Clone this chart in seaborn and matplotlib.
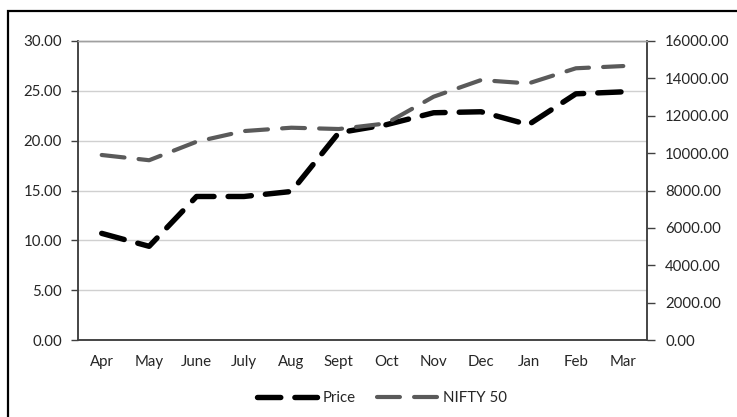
import matplotlib
matplotlib.use("Agg")
import matplotlib.pyplot as plt
from matplotlib.patches import Rectangle
from matplotlib.ticker import FixedLocator, FuncFormatter
import seaborn as sns
import pandas as pd
import numpy as np

months = ["Apr", "May", "June", "July", "Aug", "Sept", "Oct", "Nov", "Dec", "Jan", "Feb", "Mar"]
price = [10.7, 9.4, 14.4, 14.4, 14.9, 20.8, 21.6, 22.8, 22.9, 21.6, 24.7, 24.9]
nifty = [9900, 9620, 10610, 11180, 11360, 11290, 11590, 13020, 13910, 13730, 14540, 14660]
left_ticks = [0, 5, 10, 15, 20, 25, 30]
right_ticks = [0, 2000, 4000, 6000, 8000, 10000, 12000, 14000, 16000]

df = pd.DataFrame({"idx": np.arange(len(months)), "month": months,
                   "Price": price, "NIFTY 50": nifty})

sns.set_style("white")
plt.rcParams["font.family"] = ["Lato", "DejaVu Sans"]

FS = 10.8
TXT = "#262626"

fig = plt.figure(figsize=(7.37, 4.17), dpi=100)
ax = fig.add_axes([78 / 737, 1 - 340 / 417, (647 - 78) / 737, (340 - 41) / 417])
ax2 = ax.twinx()

sns.lineplot(data=df, x="idx", y="Price", ax=ax, color="black", linewidth=3.9,
             label="Price", legend=False)
sns.lineplot(data=df, x="idx", y="NIFTY 50", ax=ax2, color="#5a5a5a", linewidth=3.0,
             label="NIFTY 50", legend=False)
for ln in ax.lines:
    ln.set_dashes((4.3, 2.6))
    ln.set_dash_capstyle("round")
for ln in ax2.lines:
    ln.set_dashes((5.5, 3.4))
    ln.set_dash_capstyle("round")

ax.set_xlim(-0.5, len(months) - 0.5)
ax.set_ylim(0, 30)
ax2.set_ylim(0, 16000)

ax.yaxis.set_major_locator(FixedLocator(left_ticks))
ax2.yaxis.set_major_locator(FixedLocator(right_ticks))
ax.yaxis.set_major_formatter(FuncFormatter(lambda v, p: f"{v:.2f}"))
ax2.yaxis.set_major_formatter(FuncFormatter(lambda v, p: f"{v:.2f}"))

ax.set_xticks(np.arange(len(months)))
ax.set_xticklabels(months)
ax.set_xticks(np.arange(-0.5, len(months)), minor=True)
ax.tick_params(axis="x", which="major", length=0, pad=11, labelsize=FS, labelcolor=TXT)
ax.tick_params(axis="x", which="minor", length=4, width=1, color="#404040", direction="out")
ax.tick_params(axis="y", length=5, width=1, color="#404040", direction="out",
               labelsize=FS, labelcolor=TXT, pad=6.5)
ax2.tick_params(axis="y", length=5.5, width=1, color="#404040", direction="out",
                labelsize=FS, labelcolor=TXT, pad=7.5)
ax.set_xlabel("")
ax.set_ylabel("")
ax2.set_ylabel("")

ax.grid(axis="y", color="#d0d0d0", linewidth=1)
ax.set_axisbelow(True)
for a in (ax, ax2):
    for s in a.spines.values():
        s.set_color("#404040")
        s.set_linewidth(1.1)
    a.spines["top"].set_color("#a0a0a0")
    a.spines["top"].set_linewidth(1)
ax2.grid(False)

handles = ax.lines[:1] + ax2.lines[:1]
fig.legend(handles, ["Price", "NIFTY 50"], loc="center", bbox_to_anchor=(382 / 737, 1 - 398 / 417),
           ncol=2, frameon=False, handlelength=4.0, fontsize=FS, columnspacing=1.4,
           handletextpad=0.4, labelcolor=TXT)

# chart frame
fig.patches.append(Rectangle((8 / 737, -0.2), 1.2, 1.2 - 11 / 417, transform=fig.transFigure,
                             fill=False, edgecolor="black", linewidth=1.6, clip_on=False))

fig.savefig("out.png", dpi=100)
